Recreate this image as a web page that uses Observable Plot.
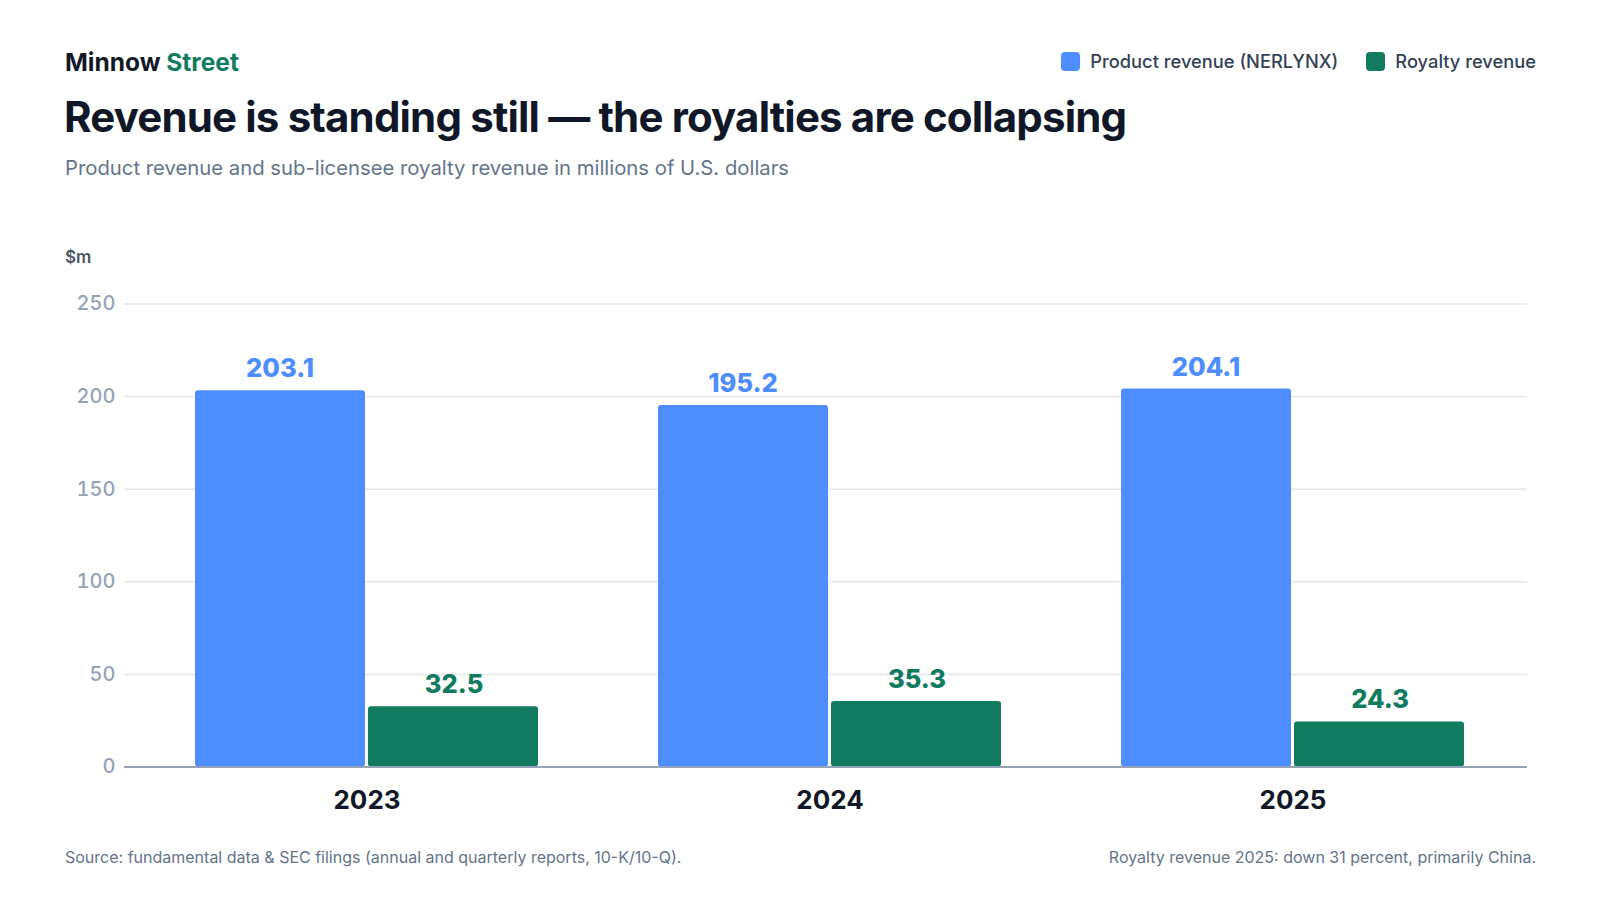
<!DOCTYPE html>
<html><head><meta charset="utf-8">
<script src="https://cdn.jsdelivr.net/npm/d3@7"></script>
<script src="https://cdn.jsdelivr.net/npm/@observablehq/plot@0.6"></script>
<style>
body{margin:0;background:#fff;font-family:Inter,sans-serif;}
#page{position:relative;width:1600px;height:900px;overflow:hidden;background:#fff;}
.abs{position:absolute;line-height:1;white-space:nowrap;}
#brand{left:65px;top:50px;font-size:24.5px;font-weight:700;color:#111827;}
#brand span{color:#107b5e;}
#title{left:64px;top:96px;font-size:42px;font-weight:700;color:#101828;letter-spacing:-0.02em;}
#subtitle{left:65px;top:158px;font-size:20.3px;font-weight:400;color:#64748b;}
#legend{right:64px;top:52px;display:flex;align-items:center;font-size:18.3px;font-weight:500;color:#334155;}
.item{display:flex;align-items:center;margin-left:28px;}
.sw{width:19px;height:19px;border-radius:4px;margin-right:10px;}
#unit{left:65px;top:249px;font-size:17px;font-weight:600;color:#4b5563;}
#chart{position:absolute;left:0;top:200px;}
#src{left:65px;top:849px;font-size:16px;color:#64748b;}
#note{right:64px;top:849px;font-size:16px;color:#64748b;}
</style></head>
<body>
<div id="page">
  <div id="brand" class="abs">Minnow <span>Street</span></div>
  <div id="title" class="abs">Revenue is standing still — the royalties are collapsing</div>
  <div id="subtitle" class="abs">Product revenue and sub-licensee royalty revenue in millions of U.S. dollars</div>
  <div id="legend" class="abs"></div>
  <div id="unit" class="abs">$m</div>
  <div id="chart"></div>
  <div id="src" class="abs">Source: fundamental data &amp; SEC filings (annual and quarterly reports, 10-K/10-Q).</div>
  <div id="note" class="abs">Royalty revenue 2025: down 31 percent, primarily China.</div>
</div>
<script>
const years = ["2023", "2024", "2025"];
const seriesNames = ["Product revenue (NERLYNX)", "Royalty revenue"];
const productRevenue = [203.1, 195.2, 204.1];
const royaltyRevenue = [32.5, 35.3, 24.3];
const seriesColors = ["#4d8dff", "#107b5e"];
const yTicks = [0, 50, 100, 150, 200, 250];

const product = years.map((y, i) => ({year: y, value: productRevenue[i]}));
const royalty = years.map((y, i) => ({year: y, value: royaltyRevenue[i]}));

const legend = document.getElementById("legend");
seriesNames.forEach((s, i) => {
  const it = document.createElement("div");
  it.className = "item";
  it.innerHTML = `<div class="sw" style="background:${seriesColors[i]}"></div><span>${s}</span>`;
  legend.appendChild(it);
});

const bandW = 344;   // group width in px
const half = bandW / 2;

const chart = Plot.plot({
  width: 1600,
  height: 640,
  marginTop: 103.5,
  marginBottom: 73.5,
  marginLeft: 124,
  marginRight: 73,
  style: {fontFamily: "Inter, sans-serif", background: "transparent"},
  x: {domain: years, paddingInner: 0.2586, paddingOuter: 0.1413, align: 0.534, label: null},
  y: {domain: [0, 250], label: null},
  marks: [
    Plot.gridY(yTicks, {stroke: "#e5e7eb", strokeOpacity: 1, strokeWidth: 1.5}),
    Plot.axisY(yTicks, {tickSize: 0, tickPadding: 9, fontSize: 20, fontWeight: 500, fill: "#94a3b8", label: null}),
    Plot.axisX({tickSize: 0, tickPadding: 23.5, fontSize: 26, fontWeight: 700, fill: "#111827", label: null}),
    Plot.barY(product, {x: "year", y: "value", fill: seriesColors[0], insetRight: half + 1, rx: 3}),
    Plot.barY(royalty, {x: "year", y: "value", fill: seriesColors[1], insetLeft: half + 1, rx: 3}),
    Plot.ruleY([0], {stroke: "#94a3b8", strokeWidth: 2}),
    Plot.text(product, {x: "year", y: "value", text: d => d.value.toFixed(1), fill: seriesColors[0], lineAnchor: "bottom", dx: -(half + 1) / 2 - 0.5, dy: -13.5, fontSize: 25.5, fontWeight: 800}),
    Plot.text(royalty, {x: "year", y: "value", text: d => d.value.toFixed(1), fill: seriesColors[1], lineAnchor: "bottom", dx: (half + 1) / 2 + 0.5, dy: -13.5, fontSize: 25.5, fontWeight: 800})
  ]
});
document.getElementById("chart").appendChild(chart);
</script>
</body></html>
